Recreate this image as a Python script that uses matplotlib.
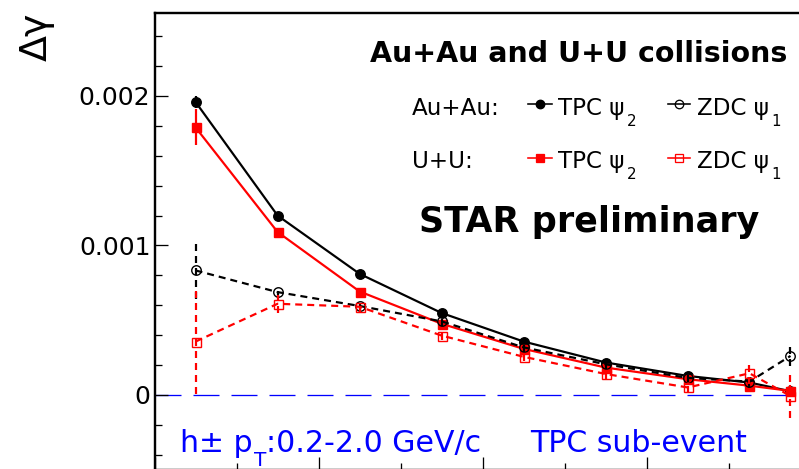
import matplotlib
matplotlib.use("Agg")
import matplotlib.pyplot as plt
from matplotlib.ticker import MultipleLocator, FixedLocator
from matplotlib.lines import Line2D

plt.rcParams['font.family'] = ['DejaVu Sans']
plt.rcParams['lines.scale_dashes'] = False
plt.rcParams['mathtext.fontset'] = 'dejavusans'

# ---- data: Delta gamma vs centrality (%) ----
centrality = [5, 15, 25, 35, 45, 55, 65, 72.5, 77.5]

auau_tpc = [1.96e-3, 1.20e-3, 0.81e-3, 0.548e-3, 0.357e-3, 0.217e-3, 0.127e-3, 0.083e-3, 0.025e-3]
auau_tpc_err = [0.04e-3, 0.02e-3, 0.015e-3, 0.012e-3, 0.01e-3, 0.01e-3, 0.012e-3, 0.015e-3, 0.03e-3]

uu_tpc = [1.79e-3, 1.09e-3, 0.692e-3, 0.476e-3, 0.308e-3, 0.183e-3, 0.105e-3, 0.062e-3, 0.027e-3]
uu_tpc_err = [0.12e-3, 0.03e-3, 0.02e-3, 0.02e-3, 0.015e-3, 0.015e-3, 0.02e-3, 0.02e-3, 0.04e-3]

auau_zdc = [0.833e-3, 0.688e-3, 0.595e-3, 0.492e-3, 0.318e-3, 0.205e-3, 0.114e-3, 0.089e-3, 0.261e-3]
auau_zdc_err = [0.19e-3, 0.04e-3, 0.03e-3, 0.03e-3, 0.03e-3, 0.03e-3, 0.03e-3, 0.04e-3, 0.07e-3]

uu_zdc = [0.357e-3, 0.61e-3, 0.59e-3, 0.397e-3, 0.255e-3, 0.14e-3, 0.05e-3, 0.145e-3, -0.007e-3]
uu_zdc_err = [0.35e-3, 0.06e-3, 0.04e-3, 0.03e-3, 0.03e-3, 0.03e-3, 0.04e-3, 0.075e-3, 0.15e-3]

y_ticks = [0, 0.001, 0.002]
y_tick_labels = ["0", "0.001", "0.002"]

title_text = "Au+Au and U+U collisions"
prelim_text = "STAR preliminary"
row_labels = ["Au+Au:", "U+U:"]
entry_labels = [("TPC ψ", "2"), ("ZDC ψ", "1")]

# ---- figure in pixel units ----
W, H, DPI = 799, 469, 100
fig = plt.figure(figsize=(W / DPI, H / DPI), dpi=DPI)
PT = 72.0 / DPI  # points per pixel


def fx(px):
    return px / W


def fy(py):
    return 1 - py / H


ax_l, ax_r, ax_t, ax_b = 154.5, 811.0, 13.0, 470.0
ax = fig.add_axes([fx(ax_l), fy(ax_b), (ax_r - ax_l) / W, (ax_b - ax_t) / H])
ax.set_xlim(0, 80)
ax.set_ylim(-0.000502, 0.002555)

for side in ("left", "top", "bottom", "right"):
    ax.spines[side].set_linewidth(2.4 * PT)

ax.xaxis.set_major_locator(MultipleLocator(20))
ax.xaxis.set_minor_locator(MultipleLocator(10))
ax.yaxis.set_major_locator(FixedLocator(y_ticks))
ax.set_yticklabels(y_tick_labels)
ax.yaxis.set_minor_locator(MultipleLocator(0.0002))
ax.tick_params(axis="both", which="both", direction="in", width=1.3 * PT)
ax.tick_params(axis="both", which="major", length=13 * PT)
ax.tick_params(axis="both", which="minor", length=7 * PT)
ax.tick_params(axis="x", labelbottom=False)
ax.tick_params(axis="y", labelsize=25 * PT, pad=4 * PT, right=False)

# zero line
ax.axhline(0, color="#0000ff", lw=1.3 * PT, dashes=(26 * PT, 12 * PT), zorder=1)

solid_lw = 2.2 * PT
dash = (0, (7 * PT, 5 * PT))


def draw_series(y, err, color, marker, filled, dashed, z):
    line, caps, bars = ax.errorbar(
        centrality, y, yerr=err, color=color, lw=solid_lw, elinewidth=solid_lw,
        capsize=0, marker=marker, ms=(9.5 if marker == "o" else 9.0) * PT,
        mfc=color if filled else "none", mec=color, mew=1.4 * PT, zorder=z)
    if dashed:
        line.set_linestyle(dash)
        bars[0].set_linestyle(dash)
    return line


draw_series(auau_tpc, auau_tpc_err, "black", "o", True, False, 3)
draw_series(uu_tpc, uu_tpc_err, "#ff0000", "s", True, False, 4)
draw_series(auau_zdc, auau_zdc_err, "black", "o", False, True, 5)
draw_series(uu_zdc, uu_zdc_err, "#ff0000", "s", False, True, 6)

# y-axis title
fig.text(fx(47), fy(13), "Δγ", rotation=90, rotation_mode="anchor",
         ha="right", va="baseline", fontsize=38 * PT)

# headline texts
fig.text(fx(787), fy(62), title_text, ha="right", va="baseline",
         fontsize=28.5 * PT, weight="bold")
fig.text(fx(419), fy(232), prelim_text, ha="left", va="baseline",
         fontsize=35 * PT, weight="bold")

fig.canvas.draw()
renderer = fig.canvas.get_renderer()


def text_run(x_px, base_px, pieces, color="black"):
    """Place consecutive text pieces: (string, size_px, drop_px, gap_px)."""
    x = x_px
    for s, size, drop, gap in pieces:
        t = fig.text(fx(x), fy(base_px + drop), s, ha="left", va="baseline",
                     fontsize=size * PT, color=color)
        bb = t.get_window_extent(renderer)
        x += bb.width + gap
    return x


# legend
row_base = [115, 168]
row_mark_y = [104, 158]
styles = [
    [dict(color="black", marker="o", mfc="black", ls="-"),
     dict(color="black", marker="o", mfc="none", ls="-")],
    [dict(color="#ff0000", marker="s", mfc="#ff0000", ls="-"),
     dict(color="#ff0000", marker="s", mfc="none", ls="-")],
]
mark_x = [(528, 552), (668, 690)]
text_x = [558, 697]
for r in range(2):
    text_run(412, row_base[r], [(row_labels[r], 23, 0, 0)])
    for e in range(2):
        st = styles[r][e]
        x0, x1 = mark_x[e]
        fig.add_artist(Line2D([fx(x0), fx(x1)], [fy(row_mark_y[r])] * 2,
                              transform=fig.transFigure, lw=1.6 * PT,
                              color=st["color"], ls=st["ls"]))
        fig.add_artist(Line2D([fx((x0 + x1) / 2)], [fy(row_mark_y[r])],
                              transform=fig.transFigure, marker=st["marker"],
                              ms=8.5 * PT, mfc=st["mfc"], mec=st["color"],
                              mew=1.3 * PT, ls="none"))
        main, sub = entry_labels[e]
        text_run(text_x[e], row_base[r], [(main, 23, 0, 2), (sub, 15, 11, 0)])

# kinematic cuts and event-plane method
blue = "#0000ff"
text_run(180, 452, [("h± p", 30, 0, 1), ("T", 20, 14, 0),
                    (":0.2-2.0 GeV/c", 30, 0, 0)], color=blue)
text_run(530, 452, [("TPC sub-event", 30, 0, 0)], color=blue)

fig.savefig("out.png", dpi=DPI)
